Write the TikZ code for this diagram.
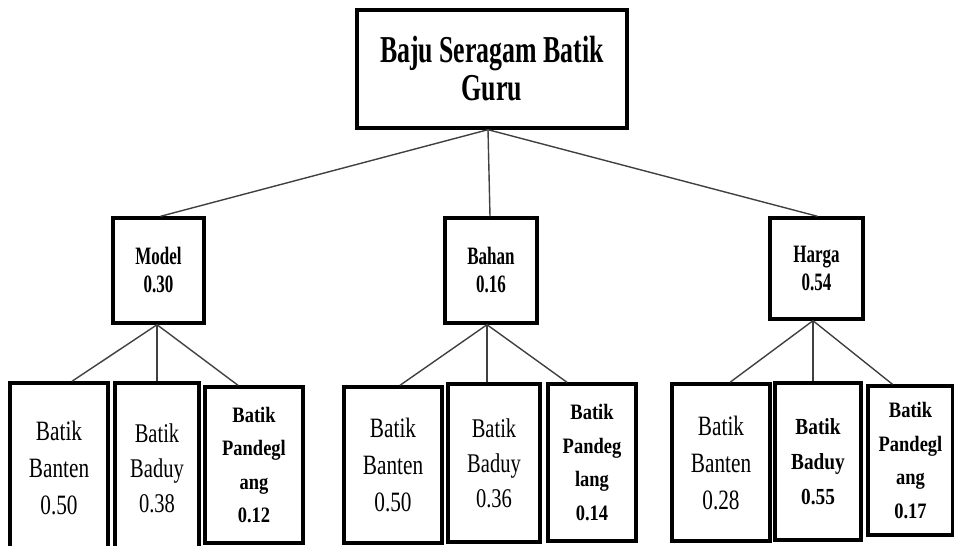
\documentclass[tikz,border=0pt]{standalone}
\usepackage{fontspec}
\setmainfont{Liberation Serif}
\newfontfamily\fTop[FakeStretch=0.68]{Liberation Serif}
\newfontfamily\fMid[FakeStretch=0.68]{Liberation Serif}
\newfontfamily\fLeaf[FakeStretch=0.76]{Liberation Serif}
\newfontfamily\fLeafB[FakeStretch=0.84]{Liberation Serif}
\tikzset{
  box/.style={draw=black, line width=3.4pt, fill=white, inner sep=0pt, align=center, anchor=center},
  topbox/.style={box, font=\fTop\bfseries\fontsize{38}{38}\selectfont},
  midbox/.style={box, font=\fMid\bfseries\fontsize{25}{28}\selectfont},
  leaf/.style={box, font=\fLeaf\fontsize{28}{37}\selectfont},
  leafb/.style={box, font=\fLeafB\bfseries\fontsize{22}{33.5}\selectfont},
  leafd/.style={box, font=\fLeaf\fontsize{27}{35}\selectfont},
  link/.style={draw=black!75, line width=1.4pt},
}
\begin{document}
\begin{tikzpicture}[x=1pt,y=-1pt]
\useasboundingbox (0,0) rectangle (954,546);
% top
\node[topbox, minimum width=270, minimum height=118] (top) at (492,69) {Baju Seragam Batik\\Guru};
% middle
\node[midbox, minimum width=91, minimum height=105] (model) at (158.5,270.5) {Model\\0.30};
\node[midbox, minimum width=92, minimum height=105] (bahan) at (491,270.5) {Bahan\\0.16};
\node[midbox, minimum width=93, minimum height=101] (harga) at (816.5,268.5) {Harga\\0.54};
% leaves
\node[leaf, minimum width=98, minimum height=170] (b1) at (59,468) {Batik\\Banten\\0.50};
\node[leafd, minimum width=84, minimum height=170] (d1) at (157,468) {Batik\\Baduy\\0.38};
\node[leafb, minimum width=98, minimum height=156] (p1) at (254,465) {Batik\\Pandegl\\ang\\0.12};
\node[leaf, minimum width=98, minimum height=156] (b2) at (393,465) {Batik\\Banten\\0.50};
\node[leafd, minimum width=92, minimum height=158] (d2) at (494,463) {Batik\\Baduy\\0.36};
\node[leafb, minimum width=88, minimum height=157] (p2) at (592,462.5) {Batik\\Pandeg\\lang\\0.14};
\node[leaf, minimum width=98, minimum height=157] (b3) at (721,462.5) {Batik\\Banten\\0.28};
\node[leafb, font=\fLeafB\bfseries\fontsize{23}{35}\selectfont, minimum width=86, minimum height=157] (d3) at (818,461.5) {Batik\\Baduy\\0.55};
\node[leafb, minimum width=85, minimum height=149] (p3) at (910.5,460.5) {Batik\\Pandegl\\ang\\0.17};
% connectors
\draw[link] ([xshift=-4]top.south) -- ([xshift=2]model.north);
\draw[link] ([xshift=-4]top.south) -- ([xshift=-1]bahan.north);
\draw[link] ([xshift=-4]top.south) -- ([xshift=1]harga.north);
\draw[link] ([xshift=-1.5]model.south) -- ([xshift=13]b1.north);
\draw[link] ([xshift=-1.5]model.south) -- ([xshift=0]d1.north);
\draw[link] ([xshift=-1.5]model.south) -- ([xshift=-16]p1.north);
\draw[link] ([xshift=-4]bahan.south) -- ([xshift=7]b2.north);
\draw[link] ([xshift=-4]bahan.south) -- ([xshift=-7]d2.north);
\draw[link] ([xshift=-4]bahan.south) -- ([xshift=-25]p2.north);
\draw[link] ([xshift=-3.5]harga.south) -- ([xshift=9]b3.north);
\draw[link] ([xshift=-3.5]harga.south) -- ([xshift=-5]d3.north);
\draw[link] ([xshift=-3.5]harga.south) -- ([xshift=-18]p3.north);
\end{tikzpicture}
\end{document}
